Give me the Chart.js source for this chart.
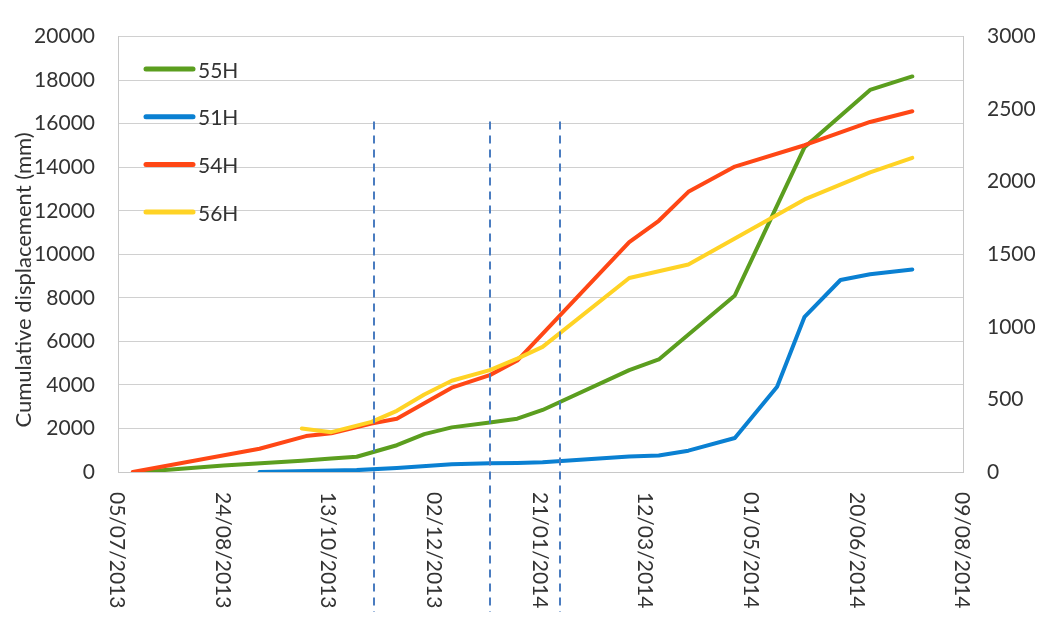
<!DOCTYPE html>
<html>
<head>
<meta charset="utf-8">
<script src="https://cdn.jsdelivr.net/npm/chart.js@4.4.1/dist/chart.umd.min.js"></script>
<style>
  html, body { margin: 0; padding: 0; background: #ffffff; }
  #wrap { width: 1039px; height: 617px; }
</style>
</head>
<body>
<div id="wrap"><canvas id="c"></canvas></div>
<script>
// Survey dates (dd/mm/yyyy) and cumulative displacement per borehole
const dates55 = ['15/07/2013','24/08/2013','30/09/2013','14/10/2013','26/10/2013','14/11/2013','27/11/2013','10/12/2013','28/12/2013','10/01/2014','22/01/2014','04/03/2014','18/03/2014','23/04/2014','26/05/2014','26/06/2014','16/07/2014'];
const values55 = [0, 300, 520, 620, 700, 1230, 1740, 2050, 2270, 2450, 2850, 4680, 5170, 8110, 14920, 17550, 18170];

// 51H is read against the secondary (right) axis
const dates51 = ['10/09/2013','26/10/2013','14/11/2013','10/12/2013','28/12/2013','10/01/2014','22/01/2014','04/03/2014','18/03/2014','01/04/2014','23/04/2014','13/05/2014','26/05/2014','12/06/2014','26/06/2014','16/07/2014'];
const values51 = [0, 13, 27, 54, 60, 62, 67, 107, 114, 147, 234, 588, 1069, 1323, 1363, 1396];

const dates54 = ['12/07/2013','10/09/2013','02/10/2013','14/10/2013','02/11/2013','14/11/2013','10/12/2013','28/12/2013','10/01/2014','04/03/2014','18/03/2014','01/04/2014','23/04/2014','26/05/2014','26/06/2014','16/07/2014'];
const values54 = [0, 1070, 1650, 1780, 2230, 2450, 3875, 4450, 5120, 10560, 11540, 12870, 14030, 15010, 16080, 16570];

const dates56 = ['30/09/2013','14/10/2013','02/11/2013','14/11/2013','27/11/2013','10/12/2013','28/12/2013','10/01/2014','22/01/2014','04/03/2014','01/04/2014','23/04/2014','26/05/2014','26/06/2014','16/07/2014'];
const values56 = [2000, 1830, 2300, 2810, 3560, 4190, 4680, 5210, 5750, 8910, 9530, 10730, 12520, 13760, 14430];

// Axis labels
const tickDates = ['05/07/2013','24/08/2013','13/10/2013','02/12/2013','21/01/2014','12/03/2014','01/05/2014','20/06/2014','09/08/2014'];
const yTitle = 'Cumulative displacement (mm)';
// Dashed event markers
const markerDates = ['03/11/2013','28/12/2013','30/01/2014'];
const markerTop = 16100;

const FONT = 'Lato';
const TEXT = '#333333';

function toTime(s) {
  const [d, m, y] = s.split('/').map(Number);
  return Date.UTC(y, m - 1, d);
}
function points(dates, values) {
  return dates.map((d, i) => ({ x: toTime(d), y: values[i] }));
}

const overlay = {
  id: 'overlay',
  afterDatasetsDraw(chart) {
    const { ctx, chartArea, scales } = chart;
    const x = scales.x, y = scales.y;

    // dashed vertical markers
    ctx.save();
    ctx.strokeStyle = '#4a7cc0';
    ctx.lineWidth = 2;
    ctx.setLineDash([8, 6]);
    const top = y.getPixelForValue(markerTop);
    markerDates.forEach(d => {
      const px = Math.round(x.getPixelForValue(toTime(d)));
      ctx.beginPath();
      ctx.moveTo(px, top);
      ctx.lineTo(px, chart.height - 5);
      ctx.stroke();
    });
    ctx.restore();

    // rotated date labels, reading downward
    ctx.save();
    ctx.font = '21px ' + FONT;
    ctx.fillStyle = TEXT;
    ctx.textAlign = 'left';
    ctx.textBaseline = 'middle';
    tickDates.forEach(t => {
      const px = x.getPixelForValue(toTime(t));
      ctx.save();
      ctx.translate(px, chartArea.bottom + 20);
      ctx.rotate(Math.PI / 2);
      ctx.fillText(t, 0, 1);
      ctx.restore();
    });
    ctx.restore();

    // vertical axis title
    ctx.save();
    ctx.font = '22px ' + FONT;
    ctx.fillStyle = TEXT;
    ctx.textAlign = 'center';
    ctx.textBaseline = 'middle';
    ctx.translate(24, 280);
    ctx.rotate(-Math.PI / 2);
    ctx.fillText(yTitle, 0, 0);
    ctx.restore();

    // legend inside the plot
    ctx.save();
    ctx.font = '21px ' + FONT;
    ctx.textAlign = 'left';
    ctx.textBaseline = 'middle';
    chart.data.datasets.forEach((ds, i) => {
      const ly = 69 + i * 47.7;
      ctx.strokeStyle = ds.borderColor;
      ctx.lineWidth = 5;
      ctx.lineCap = 'round';
      ctx.beginPath();
      ctx.moveTo(146, ly);
      ctx.lineTo(193, ly);
      ctx.stroke();
      ctx.fillStyle = TEXT;
      ctx.fillText(ds.label, 198, ly + 2);
    });
    ctx.restore();
  }
};

const tickFont = { family: FONT, size: 21 };
const plain = v => String(v);

new Chart(document.getElementById('c'), {
  type: 'line',
  data: {
    datasets: [
      { label: '55H', data: points(dates55, values55), borderColor: '#5b9e1f', yAxisID: 'y', order: 3 },
      { label: '51H', data: points(dates51, values51), borderColor: '#0a80d2', yAxisID: 'y2', order: 2 },
      { label: '54H', data: points(dates54, values54), borderColor: '#ff4715', yAxisID: 'y', order: 1 },
      { label: '56H', data: points(dates56, values56), borderColor: '#ffd325', yAxisID: 'y', order: 0 }
    ]
  },
  options: {
    responsive: true,
    maintainAspectRatio: false,
    animation: false,
    layout: { padding: { top: 23, left: 0, right: 0, bottom: 0 } },
    plugins: { legend: { display: false }, tooltip: { enabled: false } },
    elements: {
      point: { radius: 0, hoverRadius: 0 },
      line: { tension: 0, borderWidth: 4, borderCapStyle: 'round', borderJoinStyle: 'round', fill: false }
    },
    scales: {
      x: {
        type: 'linear',
        min: toTime(tickDates[0]),
        max: toTime(tickDates[tickDates.length - 1]),
        ticks: { display: false },
        grid: { display: false },
        border: { color: '#c8c8c8', width: 1 },
        afterFit(s) { s.height = 145; }
      },
      y: {
        position: 'left',
        min: 0,
        max: 20000,
        ticks: { stepSize: 2000, padding: 23, font: tickFont, color: TEXT, callback: plain },
        grid: { color: '#d0d0d0', drawTicks: false },
        border: { color: '#c8c8c8' },
        afterFit(s) { s.width = 118; }
      },
      y2: {
        position: 'right',
        min: 0,
        max: 3000,
        ticks: { stepSize: 500, padding: 24, font: tickFont, color: TEXT, callback: plain },
        grid: { display: false, drawTicks: false },
        border: { color: '#c8c8c8' },
        afterFit(s) { s.width = 76; }
      }
    }
  },
  plugins: [overlay]
});
</script>
</body>
</html>
